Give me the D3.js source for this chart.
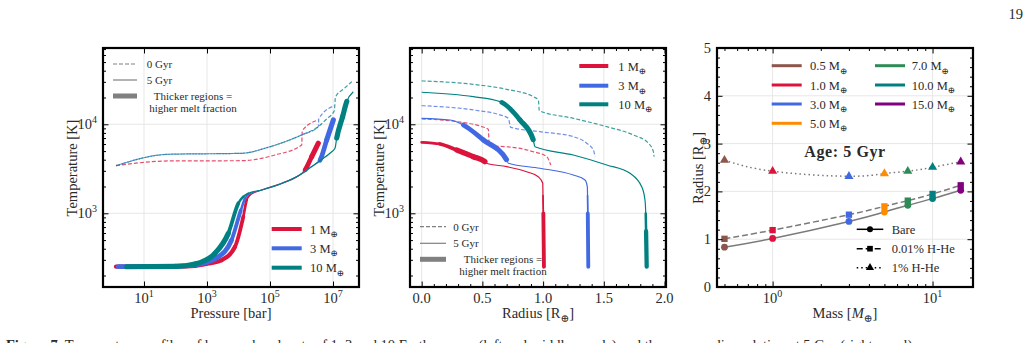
<!DOCTYPE html>
<html>
<head>
<meta charset="utf-8">
<script src="https://cdn.jsdelivr.net/npm/d3@7"></script>
<style>
body { margin: 0; background: #fff; }
text { font-family: "Liberation Serif", "DejaVu Serif", serif; fill: #2a2a2a; }
</style>
</head>
<body>
<div id="chart"></div>
<script>
// ---- data ----
var massLabels = ["1", "3", "10"];
var massColors = ["#dc143c", "#4169e1", "#008080"];

// left panel, 5 Gyr profiles: [log10 P (bar), log10 T (K), melt fraction]
var pt5_1 = [[0.111,2.40,0.7],[2.0,2.403,0.7],[2.619,2.41,0.7],[3.1,2.44,0.7],[3.467,2.475,0.7],[3.889,2.625,0.7],[4.152,2.962,0.6],[4.26,3.149,0.35],[4.365,3.206,0.15],[4.737,3.262,0],[5.371,3.337,0],[6.006,3.449,0],[6.111,3.487,0.8],[6.323,3.636,1],[6.533,3.787,0.9]];
var pt5_3 = [[0.184,2.40,0.8],[2.0,2.403,0.8],[2.619,2.42,0.8],[3.36,2.51,0.8],[3.78,2.70,0.8],[4.07,3.03,0.6],[4.21,3.17,0.3],[4.34,3.215,0.1],[4.737,3.262,0],[5.371,3.335,0],[6.006,3.445,0],[6.3,3.52,0],[6.587,3.597,0.8],[6.8,3.824,1],[7.01,4.048,0.9]];
var pt5_10 = [[0.45,2.40,0.9],[2.0,2.403,0.9],[2.619,2.43,0.9],[3.254,2.55,0.9],[3.677,2.775,0.9],[3.994,3.112,0.6],[4.152,3.187,0.3],[4.311,3.225,0.1],[4.737,3.262,0],[5.371,3.335,0],[6.006,3.445,0],[6.533,3.58,0],[6.959,3.692,0],[7.063,3.73,0],[7.117,3.843,0.9],[7.3,4.08,1],[7.435,4.254,0.9],[7.644,4.366,0]];
// left panel, 0 Gyr profiles: [log10 P, log10 T]
var pt0_1 = [[0.111,3.535],[1.771,3.588],[4.101,3.591],[5.159,3.655],[6.006,3.767],[6.025,3.928],[6.533,4.048]];
var pt0_3 = [[0.111,3.535],[1.771,3.663],[4.10,3.674],[4.946,3.742],[5.476,3.804],[6.006,3.88],[6.533,3.973],[6.549,4.063],[7.041,4.209]];
var pt0_10 = [[0.111,3.535],[1.771,3.663],[4.10,3.674],[4.946,3.742],[5.476,3.804],[6.006,3.88],[6.533,3.973],[6.8,4.06],[7.041,4.153],[7.079,4.307],[7.35,4.40],[7.594,4.479]];

// middle panel, 5 Gyr: [R (R_earth), log10 T, melt fraction]
var rt5_1 = [[0,3.798,0.35],[0.151,3.779,0.55],[0.288,3.711,0.9],[0.425,3.636,1],[0.521,3.58,0.95],[0.535,3.562,0],[0.70,3.524,0],[0.865,3.467,0],[0.96,3.411,0],[0.997,3.337,0],[0.999,3.2,0.1],[1.002,3.0,0.6],[1.007,2.40,0.7]];
var rt5_3 = [[0,4.067,0],[0.233,4.048,0],[0.343,3.992,0.8],[0.508,3.824,1],[0.70,3.599,0.9],[0.714,3.562,0],[0.974,3.506,0],[1.249,3.43,0],[1.345,3.374,0],[1.364,3.299,0],[1.366,3.2,0.1],[1.368,3.0,0.6],[1.372,2.40,0.8]];
var rt5_10 = [[0,4.36,0],[0.425,4.31,0],[0.645,4.254,0],[0.66,4.245,0.8],[0.81,4.048,1],[0.919,3.824,0.9],[0.933,3.748,0],[1.249,3.655,0],[1.524,3.543,0],[1.716,3.449,0],[1.812,3.299,0],[1.839,3.149,0],[1.845,3.0,0.3],[1.848,2.8,0.7],[1.853,2.40,0.9]];
// middle panel, 0 Gyr: [R, log10 T]
var rt0_1 = [[0,4.06],[0.288,4.03],[0.48,3.98],[0.549,3.944],[0.557,3.756],[0.70,3.748],[0.919,3.692],[1.03,3.636],[1.063,3.543]];
var rt0_3 = [[0,4.209],[0.425,4.161],[0.645,4.105],[0.714,4.067],[0.733,3.966],[0.974,3.917],[1.249,3.861],[1.359,3.787],[1.414,3.711],[1.428,3.636]];
var rt0_10 = [[0,4.487],[0.425,4.449],[0.70,4.393],[0.919,4.31],[0.961,4.273],[0.969,4.153],[1.249,4.067],[1.524,3.973],[1.743,3.88],[1.867,3.787],[1.908,3.692],[1.914,3.636]];

// right panel: mass-radius at 5 Gyr
var mass = [0.5, 1.0, 3.0, 5.0, 7.0, 10.0, 15.0];
var massColors3 = ["#8c564b", "#dc143c", "#4169e1", "#ff8c00", "#2e8b57", "#008080", "#800080"];
var rBare = [0.834, 1.015, 1.372, 1.569, 1.709, 1.849, 2.024];
var rHHe001 = [1.008, 1.19, 1.513, 1.687, 1.807, 1.947, 2.128];
var rHHe1 = [2.653, 2.422, 2.317, 2.374, 2.422, 2.506, 2.62];
var envLabels = ["Bare", "0.01% H-He", "1% H-He"];

// ticks
var pressureTicks = [1e1, 1e3, 1e5, 1e7];
var tempTicks = [1e3, 1e4];
var radiusTicks = [0, 0.5, 1.0, 1.5, 2.0];
var radiusTickLabels = ["0.0", "0.5", "1.0", "1.5", "2.0"];
var massTicks = [1, 10];
var rightRadiusTicks = [0, 1, 2, 3, 4, 5];

// ---- drawing ----
var svg = d3.select("#chart").append("svg").attr("width", 1033).attr("height", 343);

var yT1 = d3.scaleLog().domain([Math.pow(10, 2.172), Math.pow(10, 4.857)]).range([287, 48]);
var xP = d3.scaleLog().domain([Math.pow(10, -0.302), Math.pow(10, 7.825)]).range([103, 359]);
var xR = d3.scaleLinear().domain([-0.096, 2.012]).range([410, 666]);
var xM = d3.scaleLog().domain([0.449, 17.9]).range([717, 973]);
var yR = d3.scaleLinear().domain([0, 5]).range([287, 48]);

var tempMinor = [];
[100, 1000, 10000].forEach(function(b) { for (var k = 2; k <= 9; k++) tempMinor.push(b * k); });
tempMinor = tempMinor.filter(function(v) { return v > yT1.domain()[0] && v < yT1.domain()[1]; });

var widthScale = d3.scaleLinear().domain([0, 1]).range([1.2, 5.6]);

function grid(g, x, y, xv, yv) {
  g.append("g").selectAll("line").data(xv).join("line")
    .attr("x1", x).attr("x2", x).attr("y1", y.range()[0]).attr("y2", y.range()[1])
    .attr("stroke", "#e4e4e4").attr("stroke-width", 0.9);
  g.append("g").selectAll("line").data(yv).join("line")
    .attr("y1", y).attr("y2", y).attr("x1", x.range()[0]).attr("x2", x.range()[1])
    .attr("stroke", "#e4e4e4").attr("stroke-width", 0.9);
}

function ticks(g, x, y, xMaj, xMin, yMaj, yMin) {
  var x0 = x.range()[0], x1 = x.range()[1], y0 = y.range()[0], y1 = y.range()[1];
  var sides = [
    [d3.axisBottom(x), "translate(0," + y0 + ")", xMaj, xMin],
    [d3.axisTop(x), "translate(0," + y1 + ")", xMaj, xMin],
    [d3.axisLeft(y), "translate(" + x0 + ",0)", yMaj, yMin],
    [d3.axisRight(y), "translate(" + x1 + ",0)", yMaj, yMin]
  ];
  sides.forEach(function(s) {
    [[s[2], 5.5], [s[3], 3]].forEach(function(t) {
      if (!t[0].length) return;
      var ax = g.append("g").attr("transform", s[1])
        .call(s[0].tickValues(t[0]).tickSize(-t[1]).tickFormat(""));
      ax.select(".domain").remove();
    });
  });
  g.append("rect").attr("x", x0).attr("y", y1).attr("width", x1 - x0).attr("height", y0 - y1)
    .attr("fill", "none").attr("stroke", "#000").attr("stroke-width", 2.2);
}

function pow10Label(sel, v) {
  sel.text("10").append("tspan").attr("dy", -6.5).attr("font-size", 10).text(Math.round(Math.log10(v)));
}

function earthSub(sel, pre, post) {
  sel.text(pre);
  sel.append("tspan").attr("dy", 3.5).attr("font-size", "0.72em").text("⊕");
  if (post) sel.append("tspan").attr("dy", -3.5).text(post);
}

function clip(id, x, y) {
  svg.append("clipPath").attr("id", id).append("rect")
    .attr("x", x.range()[0]).attr("y", y.range()[1])
    .attr("width", x.range()[1] - x.range()[0]).attr("height", y.range()[0] - y.range()[1]);
}

function profileLine(x, y) {
  return d3.line().curve(d3.curveMonotoneX)
    .x(function(d) { return x(d[0]); })
    .y(function(d) { return y(Math.pow(10, d[1])); });
}

function dashedLine(g, x, y, pts, color, offset) {
  g.append("path").attr("d", profileLine(x, y)(pts))
    .attr("fill", "none").attr("stroke", color).attr("stroke-width", 1.2)
    .attr("stroke-dasharray", "4,2").attr("stroke-dashoffset", offset || 0).attr("opacity", 0.75);
}

// thin line plus thicker stretches where the melt fraction is high
function meltLine(g, x, y, pts, color) {
  var line = profileLine(x, y);
  var d = line(pts);
  var base = g.append("path").attr("d", d)
    .attr("fill", "none").attr("stroke", color).attr("stroke-width", 1.2);
  var total = base.node().getTotalLength();
  var tmp = g.append("path");
  var lens = pts.map(function(p, i) {
    if (i === 0) return 0;
    tmp.attr("d", line(pts.slice(0, i + 1)));
    return tmp.node().getTotalLength();
  });
  tmp.remove();
  d3.pairs(d3.range(pts.length)).forEach(function(ij) {
    var m = Math.min(pts[ij[0]][2], pts[ij[1]][2]);
    if (m <= 0) return;
    g.append("path").attr("d", d)
      .attr("fill", "none").attr("stroke", color).attr("stroke-linecap", "round")
      .attr("stroke-width", widthScale(m))
      .attr("stroke-dasharray", (lens[ij[1]] - lens[ij[0]]) + "," + (total * 2))
      .attr("stroke-dashoffset", -lens[ij[0]]);
  });
}

function yLabel(x, yc, build) {
  var t = svg.append("text").attr("transform", "translate(" + x + "," + yc + ") rotate(-90)")
    .attr("text-anchor", "middle").attr("font-size", 14.5);
  build(t);
}

function meltLegend(x0, x1, ys, tx, tc) {
  var g = svg.append("g");
  g.append("line").attr("x1", x0).attr("x2", x1).attr("y1", ys[0]).attr("y2", ys[0])
    .attr("stroke", "#808080").attr("stroke-width", 1.2).attr("stroke-dasharray", "4,2");
  g.append("line").attr("x1", x0).attr("x2", x1).attr("y1", ys[1]).attr("y2", ys[1])
    .attr("stroke", "#808080").attr("stroke-width", 1.2);
  g.append("line").attr("x1", x0).attr("x2", x1).attr("y1", ys[2]).attr("y2", ys[2])
    .attr("stroke", "#808080").attr("stroke-width", 5);
  g.append("text").attr("x", tx).attr("y", ys[0] + 4).attr("font-size", 11).text("0 Gyr");
  g.append("text").attr("x", tx).attr("y", ys[1] + 4).attr("font-size", 11).text("5 Gyr");
  g.append("text").attr("x", tc).attr("y", ys[2] + 4).attr("font-size", 11).attr("text-anchor", "middle").text("Thicker regions =");
  g.append("text").attr("x", tc).attr("y", ys[2] + 15.5).attr("font-size", 11).attr("text-anchor", "middle").text("higher melt fraction");
}

function massLegend(x0, x1, ys, tx) {
  var g = svg.append("g");
  massLabels.forEach(function(m, i) {
    g.append("line").attr("x1", x0).attr("x2", x1).attr("y1", ys[i]).attr("y2", ys[i])
      .attr("stroke", massColors[i]).attr("stroke-width", 4);
    g.append("text").attr("x", tx).attr("y", ys[i] + 4.5).attr("font-size", 12.5)
      .call(earthSub, m + " M");
  });
}

// ===== panel 1: temperature vs pressure =====
var p1 = svg.append("g");
grid(p1, xP, yT1, pressureTicks, tempTicks);
clip("c1", xP, yT1);
var c1 = p1.append("g").attr("clip-path", "url(#c1)");
var xLogP = function(v) { return xP(Math.pow(10, v)); };
[pt0_1, pt0_3, pt0_10].forEach(function(pts, i) { dashedLine(c1, xLogP, yT1, pts, massColors[i], i * 3); });
[pt5_1, pt5_3, pt5_10].forEach(function(pts, i) { meltLine(c1, xLogP, yT1, pts, massColors[i]); });

ticks(p1, xP, yT1, pressureTicks, [], tempTicks, tempMinor);

p1.selectAll(".xl").data(pressureTicks).join("text").attr("class", "xl")
  .attr("x", xP).attr("y", 303).attr("text-anchor", "middle").attr("font-size", 14.5)
  .each(function(d) { pow10Label(d3.select(this), d); });
p1.selectAll(".yl").data(tempTicks).join("text").attr("class", "yl")
  .attr("x", 97).attr("y", function(d) { return yT1(d) + 5; }).attr("text-anchor", "end").attr("font-size", 14.5)
  .each(function(d) { pow10Label(d3.select(this), d); });
p1.append("text").attr("x", 231).attr("y", 318).attr("text-anchor", "middle").attr("font-size", 14.5).text("Pressure [bar]");
yLabel(77, 168, function(t) { t.text("Temperature [K]"); });
meltLegend(113, 137, [64, 80, 96], 146.7, 193);
massLegend(271.7, 301.7, [229, 248.3, 267.7], 310);

// ===== panel 2: temperature vs radius =====
var p2 = svg.append("g");
grid(p2, xR, yT1, radiusTicks, tempTicks);
clip("c2", xR, yT1);
var c2 = p2.append("g").attr("clip-path", "url(#c2)");
[rt0_1, rt0_3, rt0_10].forEach(function(pts, i) { dashedLine(c2, xR, yT1, pts, massColors[i], 0); });
[rt5_1, rt5_3, rt5_10].forEach(function(pts, i) { meltLine(c2, xR, yT1, pts, massColors[i]); });

var rMinor = d3.range(1, 20).map(function(k) { return k / 10; }).filter(function(v) { return Math.round(v * 10) % 5 !== 0; });
ticks(p2, xR, yT1, radiusTicks, rMinor, tempTicks, tempMinor);

p2.selectAll(".xl").data(radiusTicks).join("text").attr("class", "xl")
  .attr("x", xR).attr("y", 303).attr("text-anchor", "middle").attr("font-size", 14.5)
  .text(function(d, i) { return radiusTickLabels[i]; });
p2.selectAll(".yl").data(tempTicks).join("text").attr("class", "yl")
  .attr("x", 404).attr("y", function(d) { return yT1(d) + 5; }).attr("text-anchor", "end").attr("font-size", 14.5)
  .each(function(d) { pow10Label(d3.select(this), d); });
p2.append("text").attr("x", 538).attr("y", 318).attr("text-anchor", "middle").attr("font-size", 14.5)
  .call(earthSub, "Radius [R", "]");
yLabel(384, 168, function(t) { t.text("Temperature [K]"); });
massLegend(579.3, 608.3, [66, 85.7, 104.3], 618.3);
meltLegend(420, 446, [226.7, 243.3, 259.3], 453.3, 503);

// ===== panel 3: mass-radius =====
var p3 = svg.append("g");
grid(p3, xM, yR, massTicks, [1, 2, 3, 4]);
clip("c3", xM, yR);
var c3 = p3.append("g").attr("clip-path", "url(#c3)");
var series = [rBare, rHHe001, rHHe1];
var dashes = [null, "6,3", "1.5,3"];
series.forEach(function(r, j) {
  c3.append("path").datum(mass)
    .attr("d", d3.line().curve(d3.curveNatural).x(function(m) { return xM(m); }).y(function(m, i) { return yR(r[i]); }))
    .attr("fill", "none").attr("stroke", "#7a7a7a").attr("stroke-width", 1.5)
    .attr("stroke-dasharray", dashes[j]);
});
var sym = [d3.symbolCircle, d3.symbolSquare, d3.symbolTriangle];
var symSize = [36, 40, 36];
series.forEach(function(r, j) {
  c3.append("g").selectAll("path").data(mass).join("path")
    .attr("transform", function(m, i) { return "translate(" + xM(m) + "," + yR(r[i]) + ")"; })
    .attr("d", d3.symbol(sym[j], symSize[j]))
    .attr("fill", function(m, i) { return massColors3[i]; });
});

var mMinor = [0.5, 0.6, 0.7, 0.8, 0.9, 2, 3, 4, 5, 6, 7, 8, 9];
var yMinor3 = d3.range(0, 25).map(function(k) { return k / 5; }).filter(function(v) { return Math.abs(v - Math.round(v)) > 0.01; });
ticks(p3, xM, yR, massTicks, mMinor, rightRadiusTicks, yMinor3);

p3.selectAll(".xl").data(massTicks).join("text").attr("class", "xl")
  .attr("x", xM).attr("y", 303).attr("text-anchor", "middle").attr("font-size", 14.5)
  .each(function(d) { pow10Label(d3.select(this), d); });
p3.selectAll(".yl").data(rightRadiusTicks).join("text").attr("class", "yl")
  .attr("x", 711).attr("y", function(d) { return yR(d) + 5; }).attr("text-anchor", "end").attr("font-size", 14.5)
  .text(function(d) { return d; });
var ml = p3.append("text").attr("x", 845).attr("y", 318).attr("text-anchor", "middle").attr("font-size", 14.5);
ml.append("tspan").text("Mass [");
ml.append("tspan").attr("font-style", "italic").text("M");
ml.append("tspan").attr("dy", 3.5).attr("font-size", "0.72em").text("⊕");
ml.append("tspan").attr("dy", -3.5).text("]");
yLabel(703, 168, function(t) { t.call(earthSub, "Radius [R", "]"); });

var lg3 = p3.append("g");
mass.forEach(function(m, i) {
  var col = i < 4 ? 0 : 1, row = i < 4 ? i : i - 4;
  var lx = [771.7, 875][col], tx = [810, 911.7][col], ly = [65.7, 85, 104, 123.3][row];
  lg3.append("line").attr("x1", lx).attr("x2", lx + 30).attr("y1", ly).attr("y2", ly)
    .attr("stroke", massColors3[i]).attr("stroke-width", 3);
  lg3.append("text").attr("x", tx).attr("y", ly + 4.5).attr("font-size", 12.5)
    .call(earthSub, m.toFixed(1) + " M");
});
p3.append("text").attr("x", 845).attr("y", 157).attr("text-anchor", "middle")
  .attr("font-size", 16).attr("font-weight", "bold").attr("letter-spacing", 0.6).text("Age:  5 Gyr");

var lg4 = p3.append("g");
envLabels.forEach(function(lab, j) {
  var ly = [229.3, 248.7, 267.7][j];
  lg4.append("line").attr("x1", 856.7).attr("x2", 883.3).attr("y1", ly).attr("y2", ly)
    .attr("stroke", "#000").attr("stroke-width", 1.5).attr("stroke-dasharray", dashes[j]);
  lg4.append("path").attr("transform", "translate(870," + ly + ")")
    .attr("d", d3.symbol(sym[j], symSize[j] * 0.8)).attr("fill", "#000");
  lg4.append("text").attr("x", 891.7).attr("y", ly + 4.5).attr("font-size", 12.5).text(lab);
});

// page number and the caption's first line, cut off at the bottom edge as in the page scan
svg.append("text").attr("x", 1023).attr("y", 19).attr("text-anchor", "end").attr("font-size", 14.5).attr("fill", "#000").text("19");
var cap = svg.append("text").attr("x", 6).attr("y", 350).attr("font-size", 14.5);
cap.append("tspan").attr("font-weight", "bold").text("Figure 7.");
cap.append("tspan").text("  Temperature profiles of bare rocky planets of 1, 3 and 10 Earth masses (left and middle panels) and the mass–radius relation at 5 Gyr (right panel).");
</script>
</body>
</html>
